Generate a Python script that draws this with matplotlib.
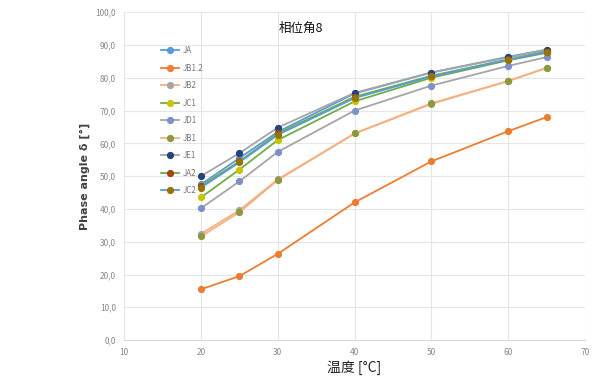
import matplotlib
matplotlib.use("Agg")
import matplotlib.pyplot as plt
from matplotlib.ticker import FuncFormatter

plt.rcParams['font.family'] = ['Noto Sans CJK SC', 'DejaVu Sans']

# temperature [°C]
temps = [20, 25, 30, 40, 50, 60, 65]

# phase angle per sample
ja = [47.5, 55.5, 63.5, 75.2, 81.6, 86.4, 88.6]
jb1_2 = [15.5, 19.5, 26.3, 42.0, 54.5, 63.7, 68.0]
jb2 = [32.4, 39.6, 49.0, 63.0, 72.0, 79.0, 83.0]
jc1 = [43.5, 52.0, 61.0, 72.8, 80.0, 85.3, 87.6]
jd1 = [40.2, 48.4, 57.4, 70.0, 77.6, 83.6, 86.3]
jb1 = [31.6, 39.0, 48.8, 63.0, 72.2, 79.0, 83.0]
je1 = [50.0, 57.0, 64.8, 75.4, 81.6, 86.2, 88.5]
ja2 = [47.0, 54.5, 63.0, 74.2, 80.6, 85.6, 88.0]
jc2 = [46.5, 54.2, 62.6, 73.8, 80.4, 85.5, 87.8]

names = ["JA", "JB1.2", "JB2", "JC1", "JD1", "JB1", "JE1", "JA2", "JC2"]
series = [ja, jb1_2, jb2, jc1, jd1, jb1, je1, ja2, jc2]
line_colors = ["#5B9BD5", "#ED7D31", "#F4B183", "#70AD47", "#A5A5A5",
               "#F4B183", "#A5A5A5", "#70AD47", "#5B9BD5"]
marker_colors = ["#5B9BD5", "#ED7D31", "#A5A5A5", "#C9C300", "#7F8FC9",
                 "#8C9A3A", "#264478", "#9E480E", "#997300"]

fig = plt.figure(figsize=(6, 3.8), dpi=100)
ax = fig.add_axes([0.207, 0.105, 0.768, 0.863])

for name, ys, lc, mc in zip(names, series, line_colors, marker_colors):
    ax.plot(temps, ys, color=lc, lw=1.3, marker="o", ms=4.2,
            markerfacecolor=mc, markeredgecolor=mc, label=name)

ax.set_xlim(10, 70)
ax.set_ylim(0, 100)
ax.set_xticks(range(10, 71, 10))
ax.set_yticks(range(0, 101, 10))
ax.yaxis.set_major_formatter(FuncFormatter(lambda v, p: f"{v:.1f}".replace(".", ",")))
ax.tick_params(length=0, labelsize=6, colors="#888888", pad=6)
ax.grid(True, color="#E6E6E6", lw=0.8)
ax.set_axisbelow(True)
for s in ax.spines.values():
    s.set_visible(False)
ax.spines["bottom"].set_visible(True)
ax.spines["bottom"].set_color("#D9D9D9")

ax.set_ylabel("Phase angle δ [°]", fontsize=8, fontweight="bold", color="#404040",
              family=["DejaVu Sans"], labelpad=4)
ax.set_xlabel("温度 [°C]", fontsize=10, color="#222222", labelpad=2)

ax.text(33, 95, "相位角8", fontsize=9, color="#111111", ha="center", va="center")

leg = ax.legend(loc="upper left", bbox_to_anchor=(0.065, 0.918), frameon=False,
                fontsize=5.8, labelspacing=1.05, handlelength=2.2,
                handletextpad=0.4, labelcolor="#777777")

fig.savefig("out.png", dpi=100)
